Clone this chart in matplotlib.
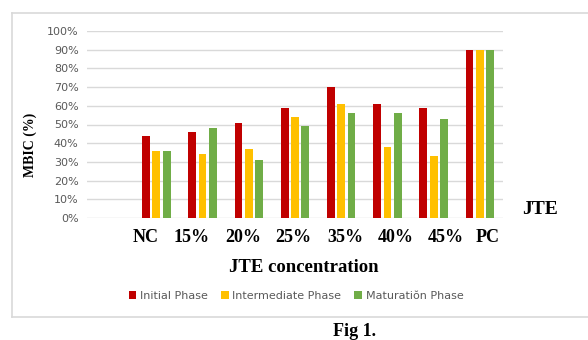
import matplotlib
matplotlib.use('Agg')
import matplotlib.pyplot as plt
from matplotlib.lines import Line2D
import numpy as np

# data (first slot is empty in the original)
categories = ['', 'NC', '15%', '20%', '25%', '35%', '40%', '45%', 'PC']
initial = [None, 44, 46, 51, 59, 70, 61, 59, 90]
intermediate = [None, 36, 34, 37, 54, 61, 38, 33, 90]
maturation = [None, 36, 48, 31, 49, 56, 56, 53, 90]
series_names = ['Initial Phase', 'Intermediate Phase', 'Maturatiŏn Phase']
colors = ['#C00000', '#FFC000', '#70AD47']
yticks = list(range(0, 101, 10))

W, H = 588, 340
fig = plt.figure(figsize=(W / 100, H / 100), dpi=100)

# outer light-grey frame of the chart object (right side runs off the page)
x0, y_top, y_bot = 12 / W, 1 - 13 / H, 1 - 317 / H
for xs_, ys_ in [([x0, 1], [y_top, y_top]), ([x0, 1], [y_bot, y_bot]), ([x0, x0], [y_bot, y_top])]:
    fig.add_artist(Line2D(xs_, ys_, transform=fig.transFigure, color='#D9D9D9', linewidth=1.2))

ax = fig.add_axes([87 / W, 1 - 218 / H, 416 / W, 187 / H])
x = np.arange(len(categories))
width = 0.167
step = 0.223
for i, (vals, name, c) in enumerate(zip([initial, intermediate, maturation], series_names, colors)):
    xs = [xi + (i - 1) * step for xi, v in zip(x, vals) if v is not None]
    vs = [v for v in vals if v is not None]
    ax.bar(xs, vs, width, color=c, label=name, zorder=3)

ax.set_xlim(-0.5, len(categories) - 0.5)
ax.set_ylim(0, 100)
ax.set_yticks(yticks)
ax.set_yticklabels([f'{t}%' for t in yticks], color='#595959', fontsize=8,
                   family='DejaVu Sans')
ax.tick_params(axis='y', length=0, pad=6)
ax.set_xticks([])
ax.grid(True, axis='y', color='#D9D9D9', linewidth=1, zorder=0)
for s in ax.spines.values():
    s.set_visible(False)

serif = 'Liberation Serif'
fig.text(30 / W, 1 - 145 / H, 'MBIC (%)', rotation=90, ha='center', va='center',
         family=serif, fontweight='bold', fontsize=10)

# category labels are typed separately in the original, slightly off the bars
label_x = [146, 192, 243, 293, 345, 396, 446, 488]
for lx, lab in zip(label_x, categories[1:]):
    fig.text(lx / W, 1 - 238 / H, lab, ha='center', va='center',
             family=serif, fontweight='bold', fontsize=13)

fig.text(304 / W, 1 - 267 / H, 'JTE concentration', ha='center', va='center',
         family=serif, fontweight='bold', fontsize=13.5)
fig.text(540 / W, 1 - 209 / H, 'JTE', ha='center', va='center',
         family=serif, fontweight='bold', fontsize=14)
fig.text(355 / W, 1 - 331 / H, 'Fig 1.', ha='center', va='center',
         family=serif, fontweight='bold', fontsize=13)

fig.legend(loc='center', bbox_to_anchor=(296 / W, 1 - 296 / H), ncol=3,
           frameon=False, fontsize=8, handlelength=0.7, handleheight=0.7,
           handletextpad=0.3, columnspacing=1.2, labelcolor='#595959')

fig.savefig('out.png', dpi=100)
